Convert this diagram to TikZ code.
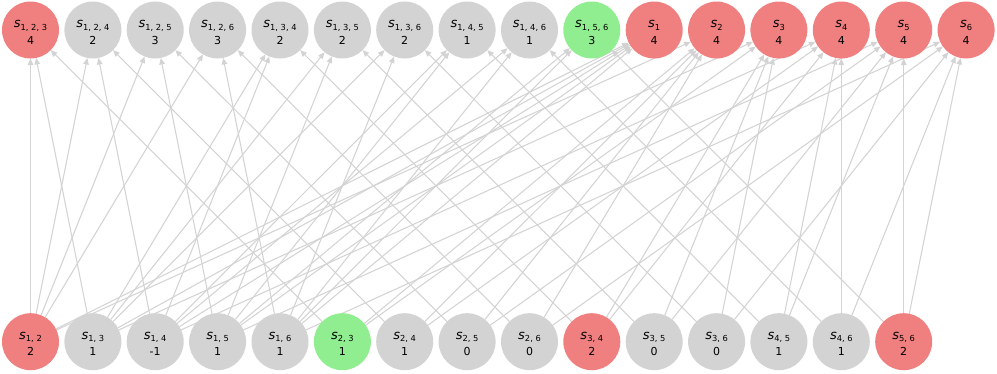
\documentclass[tikz,border=0pt]{standalone}
\usepackage{fontspec}
\setmainfont{DejaVu Sans}
\usetikzlibrary{arrows.meta}
\definecolor{nred}{HTML}{F08080}
\definecolor{ngray}{HTML}{D3D3D3}
\definecolor{ngreen}{HTML}{90EE90}
\definecolor{ecol}{HTML}{D3D3D3}
\pgfdeclarelayer{bg}
\pgfsetlayers{bg,main}
\newcommand{\lbl}[2]{\raisebox{0pt}[0pt][0pt]{\makebox[0pt]{\raisebox{2.7pt}{{\fontsize{13}{13}\selectfont\textit{s}}\raisebox{-2.7pt}{\fontsize{8.3}{8.3}\selectfont #1}}}\makebox[0pt]{\raisebox{-14pt}{#2}}}}
\begin{document}
\begin{tikzpicture}[x=1pt,y=-1pt,
  vert/.style={circle,minimum size=57pt,inner sep=0pt,outer sep=0pt,font=\fontsize{11}{13}\selectfont},
  vred/.style={vert,fill=nred},
  vgray/.style={vert,fill=ngray},
  vgreen/.style={vert,fill=ngreen},
  edge/.style={draw=ecol,line width=1.05pt,-{Triangle[length=6.5pt,width=5.5pt]}}]
\useasboundingbox (0,0) rectangle (997,373);
% top row
\node[vred]   (t0)  at (30.5,30)  {\lbl{1, 2, 3}{4}};
\node[vgray]  (t1)  at (92.9,30)  {\lbl{1, 2, 4}{2}};
\node[vgray]  (t2)  at (155.2,30) {\lbl{1, 2, 5}{3}};
\node[vgray]  (t3)  at (217.6,30) {\lbl{1, 2, 6}{3}};
\node[vgray]  (t4)  at (280.0,30) {\lbl{1, 3, 4}{2}};
\node[vgray]  (t5)  at (342.4,30) {\lbl{1, 3, 5}{2}};
\node[vgray]  (t6)  at (404.7,30) {\lbl{1, 3, 6}{2}};
\node[vgray]  (t7)  at (467.1,30) {\lbl{1, 4, 5}{1}};
\node[vgray]  (t8)  at (529.5,30) {\lbl{1, 4, 6}{1}};
\node[vgreen] (t9)  at (591.8,30) {\lbl{1, 5, 6}{3}};
\node[vred]   (t10) at (654.2,30) {\lbl{1}{4}};
\node[vred]   (t11) at (716.6,30) {\lbl{2}{4}};
\node[vred]   (t12) at (778.9,30) {\lbl{3}{4}};
\node[vred]   (t13) at (841.3,30) {\lbl{4}{4}};
\node[vred]   (t14) at (903.7,30) {\lbl{5}{4}};
\node[vred]   (t15) at (966.1,30) {\lbl{6}{4}};
% bottom row
\node[vred]   (b0)  at (30.5,341.7)  {\lbl{1, 2}{2}};
\node[vgray]  (b1)  at (92.9,341.7)  {\lbl{1, 3}{1}};
\node[vgray]  (b2)  at (155.2,341.7) {\lbl{1, 4}{-1}};
\node[vgray]  (b3)  at (217.6,341.7) {\lbl{1, 5}{1}};
\node[vgray]  (b4)  at (280.0,341.7) {\lbl{1, 6}{1}};
\node[vgreen] (b5)  at (342.4,341.7) {\lbl{2, 3}{1}};
\node[vgray]  (b6)  at (404.7,341.7) {\lbl{2, 4}{1}};
\node[vgray]  (b7)  at (467.1,341.7) {\lbl{2, 5}{0}};
\node[vgray]  (b8)  at (529.5,341.7) {\lbl{2, 6}{0}};
\node[vred]   (b9)  at (591.8,341.7) {\lbl{3, 4}{2}};
\node[vgray]  (b10) at (654.2,341.7) {\lbl{3, 5}{0}};
\node[vgray]  (b11) at (716.6,341.7) {\lbl{3, 6}{0}};
\node[vgray]  (b12) at (778.9,341.7) {\lbl{4, 5}{1}};
\node[vgray]  (b13) at (841.3,341.7) {\lbl{4, 6}{1}};
\node[vred]   (b14) at (903.7,341.7) {\lbl{5, 6}{2}};
\begin{pgfonlayer}{bg}
\foreach \b/\t in {0/0,0/1,0/2,0/3,0/10,0/11,
  1/0,1/4,1/5,1/6,1/10,1/12,
  2/1,2/4,2/7,2/8,2/10,2/13,
  3/2,3/5,3/7,3/9,3/10,3/14,
  4/3,4/6,4/8,4/9,4/10,4/15,
  5/0,5/11,5/12, 6/1,6/11,6/13, 7/2,7/11,7/14, 8/3,8/11,8/15,
  9/4,9/12,9/13, 10/5,10/12,10/14, 11/6,11/12,11/15,
  12/7,12/13,12/14, 13/8,13/13,13/15, 14/9,14/14,14/15}
  \draw[edge] (b\b) -- (t\t);
\end{pgfonlayer}
\end{tikzpicture}
\end{document}
